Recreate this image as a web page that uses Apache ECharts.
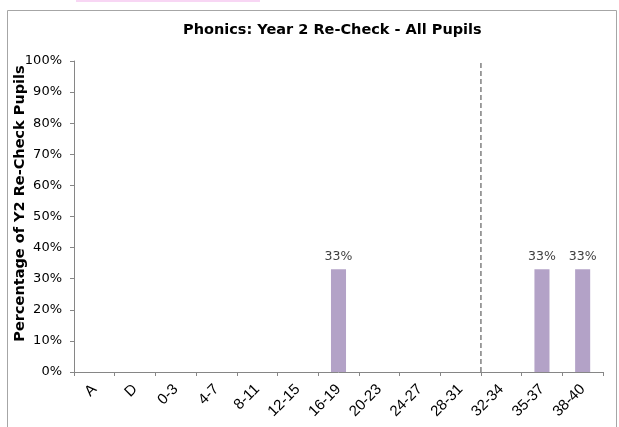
<!DOCTYPE html>
<html>
<head>
<meta charset="utf-8">
<script src="https://cdn.jsdelivr.net/npm/echarts@6/dist/echarts.min.js"></script>
<style>
  html, body { margin: 0; padding: 0; background: #ffffff; }
  #chart { width: 619px; height: 427px; }
</style>
</head>
<body>
<div id="chart"></div>
<script>
// Score bands on the re-check and share of pupils in each band (%)
var categories = ['A', 'D', '0-3', '4-7', '8-11', '12-15', '16-19', '20-23', '24-27', '28-31', '32-34', '35-37', '38-40'];
var pupilShare = [0, 0, 0, 0, 0, 0, 33, 0, 0, 0, 0, 33, 33];
var yTicks = [0, 100, 10];           // min, max, interval
var passMarkBoundary = 10;           // boundary before the 32-34 band (in category units)

var chart = echarts.init(document.getElementById('chart'));

var baseFont = 'DejaVu Sans, Verdana, sans-serif';

chart.setOption({
  animation: false,
  backgroundColor: '#ffffff',
  title: {
    text: 'Phonics: Year 2 Re-Check - All Pupils',
    left: 178,
    top: 18,
    textStyle: { fontFamily: baseFont, fontSize: 14.5, fontWeight: 'bold', color: '#000000' }
  },
  graphic: [
    { type: 'rect', shape: { x: 76, y: 0, width: 184, height: 2 }, style: { fill: '#f8d6f4' }, silent: true },
    { type: 'rect', shape: { x: 7.5, y: 10.5, width: 609, height: 430 }, style: { fill: 'none', stroke: '#a6a6a6', lineWidth: 1 }, silent: true, z: -1 }
  ],
  grid: { left: 74, right: 16, top: 61, bottom: 55, containLabel: false, outerBoundsMode: 'none' },
  xAxis: [
    {
      type: 'category',
      data: categories,
      axisLine: { lineStyle: { color: '#868686' } },
      axisTick: { show: true, length: 4, lineStyle: { color: '#868686' } },
      axisLabel: {
        rotate: 45, margin: 15, interval: 0,
        fontFamily: 'Liberation Sans, Arial, sans-serif', fontSize: 15, color: '#000000'
      }
    },
    {
      type: 'value', min: 0, max: categories.length, show: false
    }
  ],
  yAxis: {
    type: 'value',
    min: yTicks[0], max: yTicks[1], interval: yTicks[2],
    name: 'Percentage of Y2 Re-Check Pupils',
    nameLocation: 'middle',
    nameGap: 46,
    nameMoveOverlap: false,
    nameRotate: 90,
    nameTextStyle: { fontFamily: baseFont, fontSize: 14.5, fontWeight: 'bold', color: '#000000', padding: [0, 0, 0, 26] },
    axisLine: { show: true, lineStyle: { color: '#868686' } },
    axisTick: { show: true, length: 4, lineStyle: { color: '#868686' } },
    splitLine: { show: false },
    axisLabel: {
      formatter: '{value}%', margin: 12,
      fontFamily: baseFont, fontSize: 13, color: '#000000'
    }
  },
  series: [
    {
      type: 'bar',
      data: pupilShare,
      barWidth: '37%',
      itemStyle: { color: '#b3a2c7' },
      label: {
        show: true, position: 'top', distance: 6,
        fontFamily: baseFont, fontSize: 12.5, color: '#404040',
        formatter: function (p) { return p.value ? p.value + '%' : ''; }
      }
    },
    {
      type: 'line',
      xAxisIndex: 1,
      data: [[passMarkBoundary, yTicks[0]], [passMarkBoundary, yTicks[1]]],
      symbol: 'none',
      lineStyle: { color: '#7f7f7f', width: 1.5, type: [5, 3] },
      silent: true
    }
  ]
});
</script>
</body>
</html>
